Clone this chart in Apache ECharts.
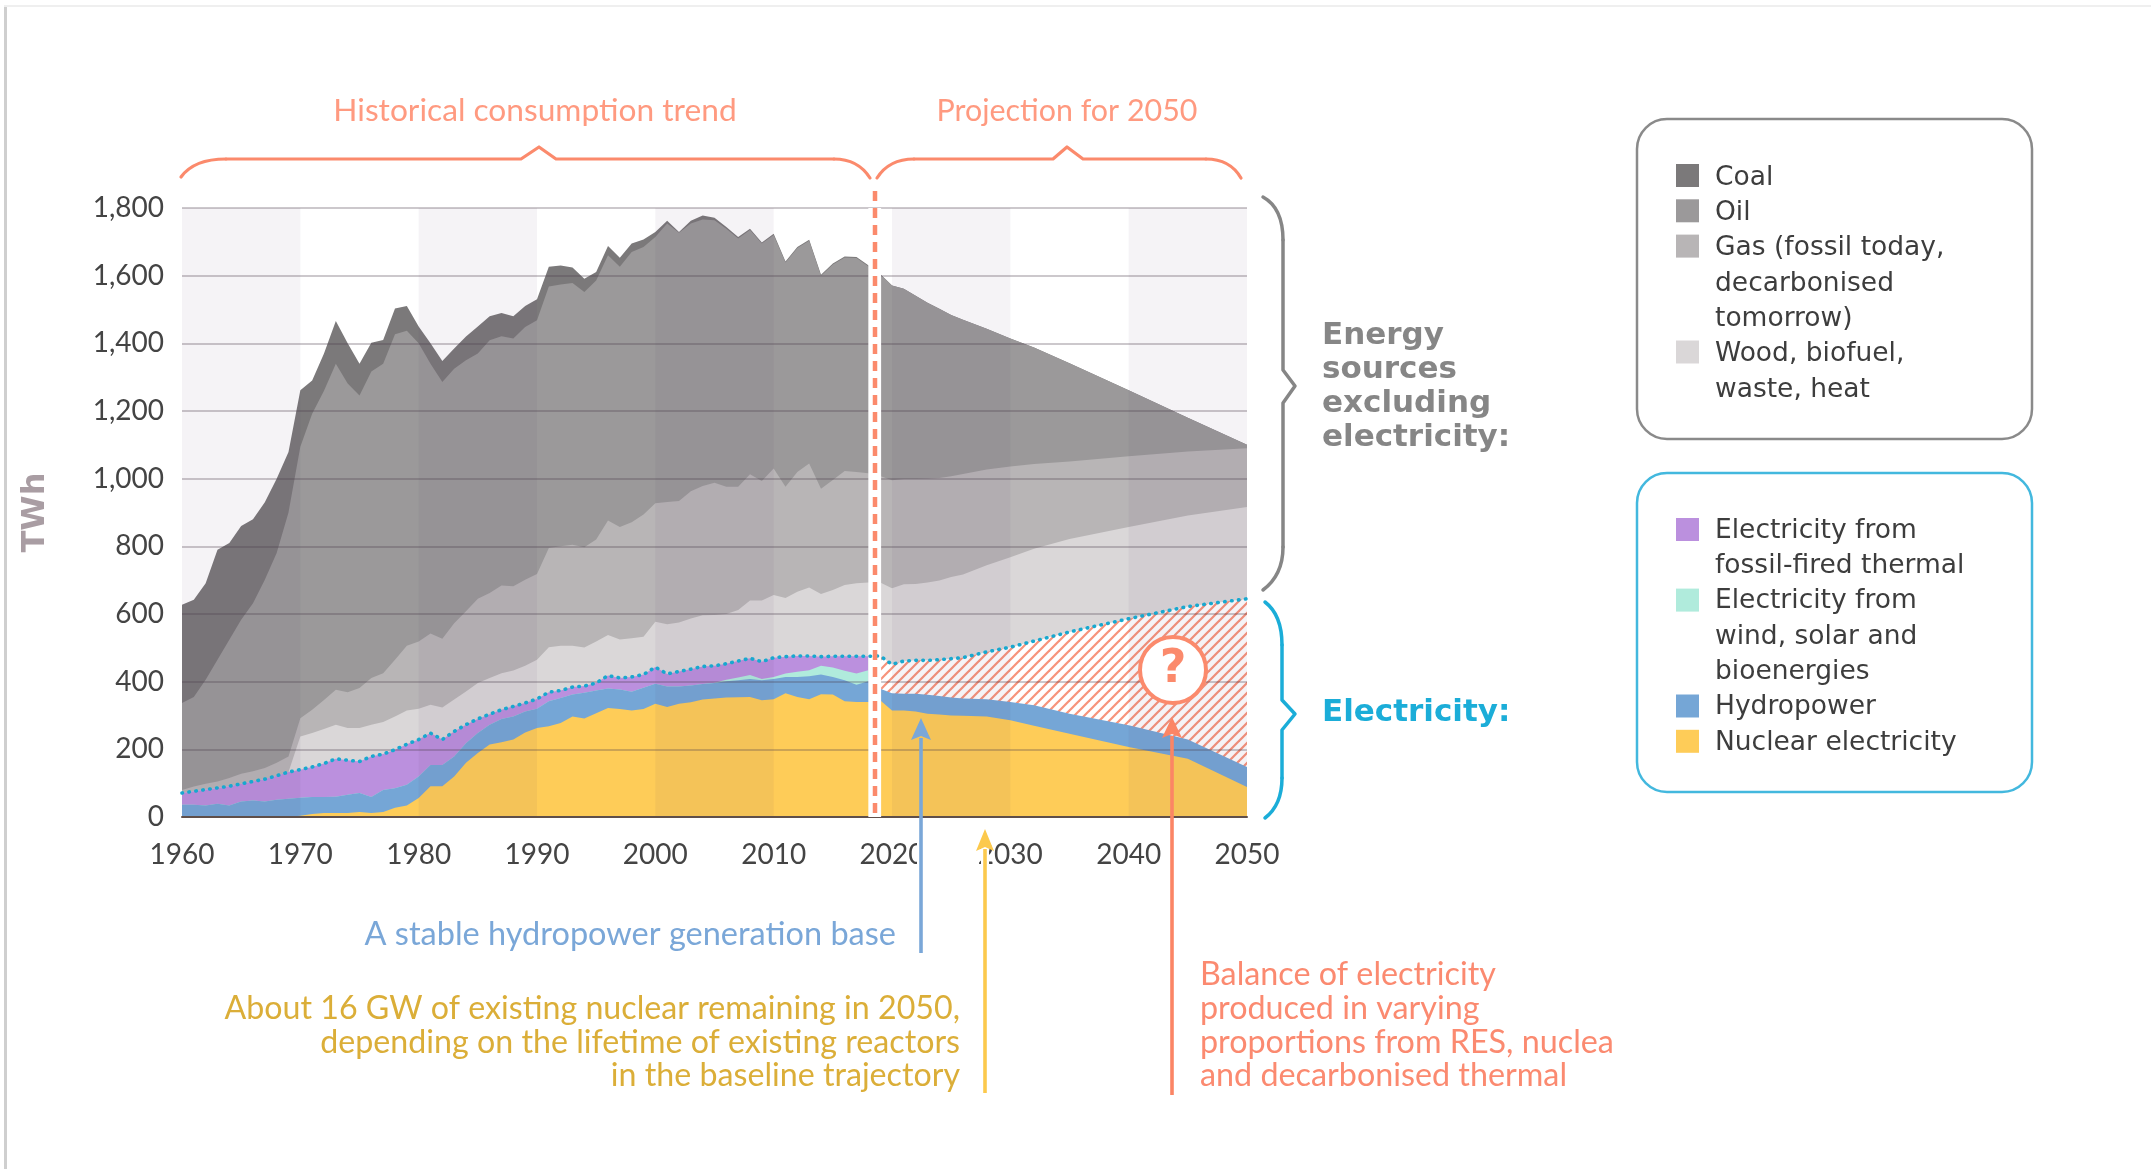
<!DOCTYPE html>
<html>
<head>
<meta charset="utf-8">
<style>html,body{margin:0;padding:0;background:#fff}#c{width:2151px;height:1169px}</style>
<script src="https://cdn.jsdelivr.net/npm/echarts@6/dist/echarts.min.js"></script>
</head>
<body>
<div id="c"></div>
<script>
// Every array holds the upper edge of a layer (TWh)
const years = [1960,1961,1962,1963,1964,1965,1966,1967,1968,1969,
1970,1971,1972,1973,1974,1975,1976,1977,1978,1979,
1980,1981,1982,1983,1984,1985,1986,1987,1988,1989,
1990,1991,1992,1993,1994,1995,1996,1997,1998,1999,
2000,2001,2002,2003,2004,2005,2006,2007,2008,2009,
2010,2011,2012,2013,2014,2015,2016,2017,2018,
2019,2020,2021,2022,2023,2024,2025,2026,2028,2030,2032,2035,2040,2045,2050];
const coalTop = [627,642,691,790,810,860,880,930,1000,1079,
1261,1290,1370,1466,1400,1340,1402,1410,1503,1510,
1450,1400,1348,1385,1420,1450,1480,1490,1480,1510,
1530,1626,1630,1624,1591,1611,1688,1653,1695,1707,
1729,1762,1729,1762,1778,1771,1744,1714,1739,1698,
1724,1642,1685,1706,1603,1636,1657,1655,1631,
1605,1571,1561,1541,1520,1502,1484,1470,1443,1414,1388,1341,1261,1180,1100];
const oilTop = [337,355,406,465,524,583,632,701,780,900,
1094,1192,1260,1340,1281,1246,1317,1340,1427,1437,
1400,1340,1286,1325,1350,1370,1409,1421,1414,1448,
1468,1568,1574,1578,1552,1586,1660,1626,1670,1685,
1714,1754,1727,1754,1766,1764,1739,1710,1735,1695,
1720,1639,1682,1703,1600,1633,1654,1652,1628,
1605,1571,1561,1541,1520,1502,1484,1470,1443,1414,1388,1341,1261,1180,1100];
const gasTop = [80,90,98,105,115,128,135,145,160,179,
292,317,346,376,369,381,411,425,465,506,
519,542,527,573,608,645,662,684,682,701,
718,795,800,805,797,820,876,857,871,894,
927,931,934,963,978,988,976,976,1013,993,
1030,976,1020,1045,970,996,1023,1020,1016,
1008,995,999,999,1000,1002,1007,1014,1027,1036,1043,1051,1066,1080,1090];
const woodTop = [71,76,81,86,91,98,105,112,122,133,
238,248,260,273,263,263,273,281,297,315,
320,332,324,347,371,396,411,425,433,447,
465,502,506,506,501,519,538,525,528,533,
577,570,575,587,596,597,600,612,640,640,
656,647,666,678,659,671,686,691,693,
693,676,688,689,693,699,709,717,744,768,793,822,857,891,916];
const electricityTop = [71,76,81,86,91,98,105,112,122,133,
140,148,158,172,168,164,179,186,199,215,
229,248,229,253,273,290,304,317,327,337,
349,369,374,384,387,396,418,411,414,421,
443,423,430,437,445,447,453,461,469,459,
471,474,476,476,474,475,475,475,475,
476,451,461,463,463,465,468,471,488,502,520,547,586,622,645];
const windSolarTop = [36,36,34,39,34,46,49,46,51,54,
57,59,59,60,66,71,59,80,85,95,
120,154,154,179,218,248,273,290,297,312,
320,342,352,362,367,374,380,377,370,382,
394,386,386,389,393,397,406,412,420,408,
414,424,429,434,447,442,432,424,434];
const hydroTop = [36,36,34,39,34,46,49,46,51,54,
57,59,59,60,66,71,59,80,85,95,
120,154,154,179,218,248,273,290,297,312,
320,342,352,362,367,374,380,377,370,382,
394,386,386,389,393,396,401,404,408,404,
408,414,414,416,421,414,404,391,401,
379,366,364,364,361,358,353,350,348,340,330,305,271,229,148];
const nuclearTop = [0,0,0,0,0,0,0,0,0,1,
4,9,12,12,12,15,12,15,27,34,
56,91,91,120,160,189,214,221,229,250,
263,268,278,297,291,307,322,319,315,319,
335,325,335,339,347,350,353,354,355,345,
348,366,355,348,363,362,342,340,340,
345,315,315,312,305,303,300,299,297,286,270,246,207,172,89];
const shadedDecades = [[1960,1970],[1980,1990],[2000,2010],[2020,2030],[2040,2050]];
const transitionGap = [2018,2019.08];
const legendFuels = [['Coal'],['Oil'],['Gas (fossil today,','decarbonised','tomorrow)'],['Wood, biofuel,','waste, heat']];
const legendElectric = [['Electricity from','fossil-fired thermal'],['Electricity from','wind, solar and','bioenergies'],['Hydropower'],['Nuclear electricity']];

const lastHistorical = years.indexOf(2018);
const pts = (vals, from = 0) => vals.map((v, i) => [years[i + from], v]);

const hatch = document.createElement('canvas');
hatch.width = hatch.height = 10;
const hc = hatch.getContext('2d');
hc.fillStyle = '#fff'; hc.fillRect(0, 0, 10, 10);
hc.strokeStyle = '#f7937b'; hc.lineWidth = 2.2;
[[-10, 10, 10, -10], [0, 10, 10, 0], [0, 20, 20, 0]].forEach(l => { hc.beginPath(); hc.moveTo(l[0], l[1]); hc.lineTo(l[2], l[3]); hc.stroke(); });

const area = (name, data, color) => ({
  name, type: 'line', data, showSymbol: false, symbol: 'none', silent: true, z: 2,
  lineStyle: { width: 0 }, areaStyle: { color, opacity: 1, origin: 'start' }
});

const ORANGE = '#fb8a6c', BLUE_C = '#1badd8', GREY_C = '#868686';
const LATO = 'Lato, "Open Sans", sans-serif', VERD = '"DejaVu Sans", sans-serif';

const fuelColors = ['#7b797a', '#9b999a', '#b8b5b6', '#dad7d8'];
const elecColors = ['#bb90de', '#b0ebdc', '#75a6d6', '#fecc58'];
const g = [];
const txt = (text, x, y, fill, fontSize, font, align, weight) => g.push({
  type: 'text', z: 110, style: { text, x, y, fill, fontSize, fontFamily: font, align: align || 'left', verticalAlign: 'middle', fontWeight: weight || 'normal' }
});
const stroke = (color, w) => ({ stroke: color, fill: 'none', lineWidth: w, lineCap: 'round', lineJoin: 'round' });
const poly = (points, color, w) => g.push({ type: 'polyline', z: 100, shape: { points }, style: stroke(color, w) });
const curve = (x1, y1, cx, cy, x2, y2, color, w) => g.push({ type: 'bezierCurve', z: 100, shape: { x1, y1, x2, y2, cpx1: cx, cpy1: cy }, style: stroke(color, w) });

// page frame
g.push({ type: 'rect', z: 90, shape: { x: 4, y: 6, width: 3, height: 1163 }, style: { fill: '#cfcfcf' } });
g.push({ type: 'rect', z: 90, shape: { x: 4, y: 5, width: 2147, height: 2 }, style: { fill: '#efefef' } });

// header braces
curve(181, 177, 194, 159, 226, 159, ORANGE, 3.2);
poly([[226, 159], [521, 159], [539, 147], [556, 159], [834, 159]], ORANGE, 3.2);
curve(834, 159, 858, 159, 870, 178, ORANGE, 3.2);
curve(877, 178, 889, 159, 914, 159, ORANGE, 3.2);
poly([[914, 159], [1053, 159], [1067, 147], [1083, 159], [1206, 159]], ORANGE, 3.2);
curve(1206, 159, 1230, 159, 1241, 178, ORANGE, 3.2);
txt('Historical consumption trend', 535, 111, '#ff9a80', 31.7, LATO, 'center');
txt('Projection for 2050', 1067, 111, '#ff9a80', 30.4, LATO, 'center');

// right braces
curve(1263, 197, 1283, 208, 1283, 240, GREY_C, 3.5);
poly([[1283, 240], [1283, 370], [1295, 386], [1283, 403], [1283, 547]], GREY_C, 3.5);
curve(1283, 547, 1283, 575, 1263, 590, GREY_C, 3.5);
curve(1265, 602, 1282, 615, 1282, 645, BLUE_C, 3.5);
poly([[1282, 645], [1282, 700], [1295, 714], [1282, 730], [1282, 778]], BLUE_C, 3.5);
curve(1282, 778, 1282, 805, 1265, 818, BLUE_C, 3.5);
['Energy', 'sources', 'excluding', 'electricity:'].forEach((t, i) => txt(t, 1322, 336 + i * 34, GREY_C, 31, VERD, 'left', 'bold'));
txt('Electricity:', 1322, 713, BLUE_C, 31, VERD, 'left', 'bold');

// dashed transition line
g.push({ type: 'line', z: 100, shape: { x1: 875, y1: 191, x2: 875, y2: 820 }, style: { stroke: ORANGE, lineWidth: 4.5, lineDash: [10, 7] } });

// arrows
const arrow = (x, tip, base, bottom, hw, color, halo) => {
  if (halo) g.push({ type: 'line', z: 98, shape: { x1: x, y1: halo[0], x2: x, y2: halo[1] }, style: { stroke: '#fff', lineWidth: 8 } });
  g.push({ type: 'line', z: 100, shape: { x1: x, y1: base - 2, x2: x, y2: bottom }, style: { stroke: color, lineWidth: 3.6 } });
  g.push({ type: 'polygon', z: 100, shape: { points: [[x, tip], [x + hw, base], [x, base - 4], [x - hw, base]] }, style: { fill: color } });
};
arrow(921, 718, 740, 953, 10, '#7aa7d8', [828, 880]);
arrow(985, 829, 851, 1093, 9, '#fcc94d', [824, 880]);
arrow(1172, 717, 738, 1095, 10, '#fb8565');

// question badge
g.push({ type: 'circle', z: 100, shape: { cx: 1173, cy: 670, r: 33 }, style: { fill: '#fff', stroke: ORANGE, lineWidth: 4 } });
txt('?', 1173, 670, ORANGE, 46, VERD, 'center', 'bold');

// annotations
txt('A stable hydropower generation base', 896, 935, '#7aa7d8', 32.5, LATO, 'right');
['About 16 GW of existing nuclear remaining in 2050,', 'depending on the lifetime of existing reactors', 'in the baseline trajectory']
  .forEach((t, i) => txt(t, 960, 1009 + i * 33.5, '#dbae38', 32.2, LATO, 'right'));
['Balance of electricity', 'produced in varying', 'proportions from RES, nuclea', 'and decarbonised thermal']
  .forEach((t, i) => txt(t, 1200, 975 + i * 33.6, '#fb8a70', 32.3, LATO, 'left'));

// legends
const box = (y, h, color) => g.push({ type: 'rect', z: 90, shape: { x: 1637, y, width: 395, height: h, r: 30 }, style: { fill: '#fff', stroke: color, lineWidth: 2.5 } });
box(119, 320, '#8a8a8a');
box(473, 319, '#43b8de');
const legend = (items, colors, startY, textShift) => {
  let line = 0;
  items.forEach((lines, i) => {
    g.push({ type: 'rect', z: 100, shape: { x: 1676, y: startY + line * 35.3 - 11, width: 23, height: 23 }, style: { fill: colors[i] } });
    lines.forEach(t => { txt(t, 1715, startY + textShift + line * 35.3, '#3d3d3d', 26.5, VERD); line++; });
  });
};
legend(legendFuels, fuelColors, 175, 3);
legend(legendElectric, elecColors, 529, 2);

const chart = echarts.init(document.getElementById('c'), null, { renderer: 'canvas' });
chart.setOption({
  animation: false,
  backgroundColor: '#fff',
  grid: { left: 182, right: 904, top: 208, bottom: 352, containLabel: false },
  xAxis: {
    type: 'value', min: 1960, max: 2050, interval: 10, z: 5,
    axisLine: { show: true, onZero: false, lineStyle: { color: '#5f4f4a', width: 2 } },
    axisTick: { show: false }, splitLine: { show: false },
    axisLabel: { color: '#444', fontSize: 28, fontFamily: LATO, margin: 24, formatter: v => String(v), hideOverlap: false, showMinLabel: true, showMaxLabel: true }
  },
  yAxis: {
    type: 'value', min: 0, max: 1800, interval: 200, z: 5,
    name: 'TWh', nameLocation: 'middle', nameGap: 130, nameRotate: 90,
    nameTextStyle: { color: '#a99da3', fontSize: 32, fontWeight: 'bold', fontFamily: VERD },
    axisLine: { show: false }, axisTick: { show: false },
    splitLine: { show: true, lineStyle: { color: 'rgba(75,60,75,0.38)', width: 1.5 } },
    axisLabel: { color: '#444', fontSize: 28, fontFamily: LATO, margin: 18, formatter: v => v.toLocaleString('en-US') }
  },
  series: [
    area('Coal', pts(coalTop), fuelColors[0]),
    area('Oil', pts(oilTop), fuelColors[1]),
    area('Gas', pts(gasTop), fuelColors[2]),
    area('Wood, biofuel, waste, heat', pts(woodTop), fuelColors[3]),
    area('Electricity from fossil-fired thermal', pts(electricityTop.slice(0, lastHistorical + 1)), elecColors[0]),
    area('Balance of electricity', pts(electricityTop.slice(lastHistorical + 1), lastHistorical + 1), { image: hatch, repeat: 'repeat' }),
    area('Electricity from wind, solar and bioenergies', pts(windSolarTop), elecColors[1]),
    area('Hydropower', pts(hydroTop), elecColors[2]),
    Object.assign(area('Nuclear electricity', pts(nuclearTop), elecColors[3]), {
      markArea: { silent: true, z: 4, itemStyle: { color: 'rgba(85,45,95,0.06)' }, data: shadedDecades.map(d => [{ xAxis: d[0] }, { xAxis: d[1] }]) }
    }),
    {
      name: 'Total electricity', type: 'line', data: pts(electricityTop), symbol: 'none', silent: true, z: 8,
      lineStyle: { color: '#18a8cf', width: 3.6, type: [0.5, 6.5], cap: 'round' },
      markArea: { silent: true, z: 6, itemStyle: { color: '#fff', opacity: 1 }, data: [[{ xAxis: transitionGap[0] }, { xAxis: transitionGap[1] }]] }
    }
  ],
  graphic: { elements: g }
});
</script>
</body>
</html>
